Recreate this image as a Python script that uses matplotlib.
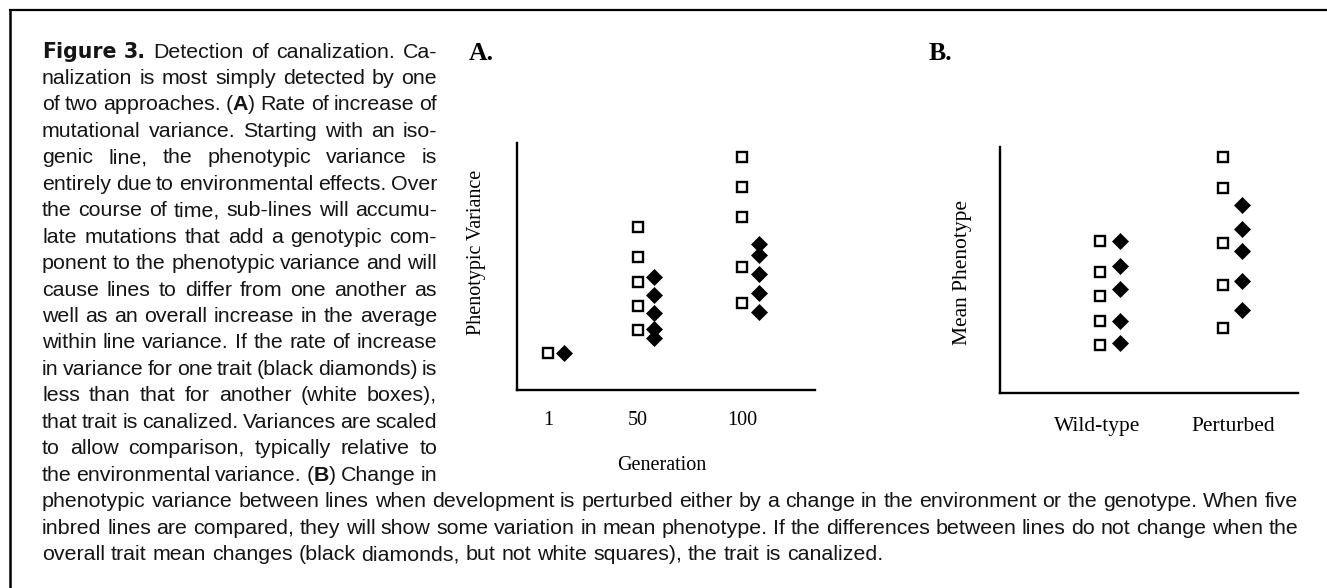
import matplotlib
matplotlib.use("Agg")
import matplotlib.pyplot as plt
from matplotlib.lines import Line2D

W, H = 1327, 588

# Panel A: variance of sub-lines at each generation (arbitrary units, 0-100)
gen_labels = ["1", "50", "100"]
gen_pos = [0.0, 1.0, 2.16]
box_var = [[15.0], [66.0, 53.8, 43.7, 34.0, 24.3], [94.3, 82.2, 70.0, 49.8, 35.2]]
diamond_var = [[15.0], [45.7, 38.5, 31.2, 24.7, 21.1], [59.1, 54.7, 47.0, 39.3, 31.6]]

# Panel B: mean phenotype of five inbred lines (arbitrary units, 0-100)
cond_labels = ["Wild-type", "Perturbed"]
cond_pos = [0.0, 1.0]
box_mean = [[61.8, 49.2, 39.4, 29.3, 19.5], [95.9, 83.3, 61.0, 43.9, 26.4]]
diamond_mean = [[61.8, 51.6, 42.3, 29.3, 20.3], [76.4, 66.7, 57.7, 45.5, 33.7]]

# caption: '^' toggles heavy label font, '*' toggles bold
caption_left = [
    "^Figure^ ^3.^ Detection of canalization. Ca-",
    "nalization is most simply detected by one",
    "of two approaches. (*A*) Rate of increase of",
    "mutational variance. Starting with an iso-",
    "genic line, the phenotypic variance is",
    "entirely due to environmental effects. Over",
    "the course of time, sub-lines will accumu-",
    "late mutations that add a genotypic com-",
    "ponent to the phenotypic variance and will",
    "cause lines to differ from one another as",
    "well as an overall increase in the average",
    "within line variance. If the rate of increase",
    "in variance for one trait (black diamonds) is",
    "less than that for another (white boxes),",
    "that trait is canalized. Variances are scaled",
    "to allow comparison, typically relative to",
    "the environmental variance. (*B*) Change in",
]
caption_full = [
    "phenotypic variance between lines when development is perturbed either by a change in the environment or the genotype. When five",
    "inbred lines are compared, they will show some variation in mean phenotype. If the differences between lines do not change when the",
    "overall trait mean changes (black diamonds, but not white squares), the trait is canalized.",
]

SERIF = "Liberation Serif"
SANS = "Liberation Sans"
CAP_FS = 15.4
INK = "#151515"


def fx(x):
    return x / W


def fy(y):
    return 1 - y / H


fig = plt.figure(figsize=(W / 100, H / 100), dpi=100)
renderer = fig.canvas.get_renderer()

# frame (top and left rules only)
fig.add_artist(Line2D([fx(10), 1], [fy(10), fy(10)], color="black", lw=1.6))
fig.add_artist(Line2D([fx(10), fx(10)], [fy(10), 0], color="black", lw=1.8))


def seg_style(kind):
    if kind == "heavy":
        return dict(family="DejaVu Sans", fontweight="bold", fontsize=CAP_FS - 0.6)
    if kind == "bold":
        return dict(family=SANS, fontweight="bold", fontsize=CAP_FS)
    return dict(family=SANS, fontweight="normal", fontsize=CAP_FS)


def parse_word(word):
    segs, buf, kind = [], "", "normal"
    for ch in word:
        if ch in "^*":
            if buf:
                segs.append((buf, kind))
            buf = ""
            new = "heavy" if ch == "^" else "bold"
            kind = "normal" if kind == new else new
        else:
            buf += ch
    if buf:
        segs.append((buf, kind))
    return segs


def text_width(s, kind):
    t = fig.text(0, 0, s, **seg_style(kind))
    w = t.get_window_extent(renderer).width
    t.remove()
    return w


def draw_line(line, x0, x1, y_base, justify=True):
    words = [parse_word(w) for w in line.split(" ")]
    widths = [sum(text_width(s, k) for s, k in segs) for segs in words]
    space = 0.278 * CAP_FS * 100 / 72
    if justify and len(words) > 1:
        gap = (x1 - x0 - sum(widths)) / (len(words) - 1)
    else:
        gap = space
    x = x0
    for segs, w in zip(words, widths):
        xs = x
        for s, k in segs:
            fig.text(fx(xs), fy(y_base), s, ha="left", va="baseline", color=INK, **seg_style(k))
            xs += text_width(s, k)
        x += w + gap


LINE_H = 26.45
BASE0 = 57.5
for i, line in enumerate(caption_left):
    draw_line(line, 42, 437, BASE0 + i * LINE_H)
for j, line in enumerate(caption_full):
    last = j == len(caption_full) - 1
    draw_line(line, 42, 1298, BASE0 + (len(caption_left) + j) * LINE_H, justify=not last)


def style_axes(ax):
    for side in ["top", "right"]:
        ax.spines[side].set_visible(False)
    for side in ["left", "bottom"]:
        ax.spines[side].set_linewidth(1.7)
    ax.set_ylim(0, 100)
    ax.set_yticks([])
    ax.tick_params(axis="x", length=0)
    ax.patch.set_alpha(0)


box_kw = dict(marker="s", ms=7.6, mfc="white", mec="black", mew=1.7, ls="none")
dia_kw = dict(marker="D", ms=8.6, mfc="black", mec="black", mew=0.5, ls="none")

# Panel A
axA = fig.add_axes([fx(517), fy(390), (815 - 517) / W, (390 - 143) / H])
style_axes(axA)
axA.set_xlim(-0.344, 2.967)
for xp, bv, dv in zip(gen_pos, box_var, diamond_var):
    axA.plot([xp] * len(bv), bv, **box_kw)
    axA.plot([xp + 0.18] * len(dv), dv, **dia_kw)
axA.set_xticks(gen_pos)
axA.set_xticklabels(gen_labels, family=SERIF, fontsize=14.5)
axA.tick_params(axis="x", pad=15)
fig.text(fx(477), fy(252), "Phenotypic Variance", rotation=90, ha="center", va="center",
         family=SERIF, fontsize=14.5)
fig.text(fx(662), fy(465), "Generation", ha="center", va="center", family=SERIF, fontsize=14.5)
fig.text(fx(469), fy(53), "A.", ha="left", va="center", family=SERIF, fontweight="bold", fontsize=18.5)

# Panel B
axB = fig.add_axes([fx(1000), fy(393), (1298 - 1000) / W, (393 - 147) / H])
style_axes(axB)
axB.set_xlim(-0.816, 1.616)
for xp, bv, dv in zip(cond_pos, box_mean, diamond_mean):
    axB.plot([xp] * len(bv), bv, **box_kw)
    axB.plot([xp + 0.16] * len(dv), dv, **dia_kw)
axB.set_xticks([p + d for p, d in zip(cond_pos, [-0.02, 0.09])])
axB.set_xticklabels(cond_labels, family=SERIF, fontsize=15.5)
axB.tick_params(axis="x", pad=17)
fig.text(fx(962), fy(272), "Mean Phenotype", rotation=90, ha="center", va="center",
         family=SERIF, fontsize=15.5)
fig.text(fx(929), fy(53), "B.", ha="left", va="center", family=SERIF, fontweight="bold", fontsize=18.5)

fig.savefig("out.png", dpi=100)
